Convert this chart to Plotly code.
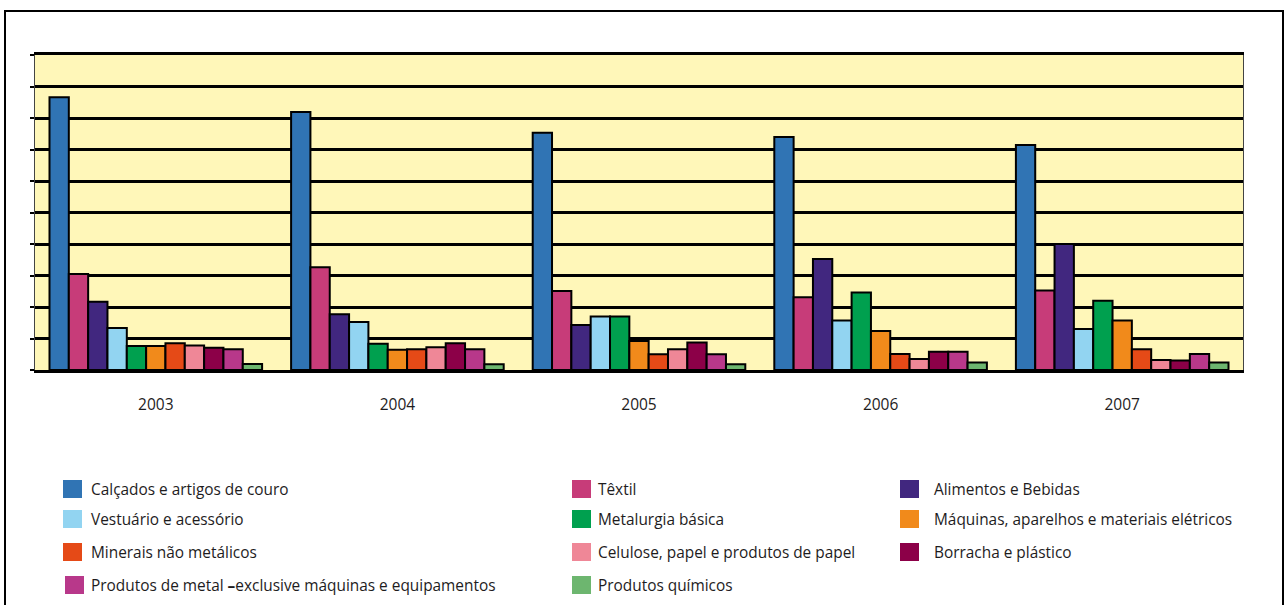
import plotly.graph_objects as go

years = ["2003", "2004", "2005", "2006", "2007"]

series_names = [
    "Calçados e artigos de couro",
    "Têxtil",
    "Alimentos e Bebidas",
    "Vestuário e acessório",
    "Metalurgia básica",
    "Máquinas, aparelhos e materiais elétricos",
    "Minerais não metálicos",
    "Celulose, papel e produtos de papel",
    "Borracha e plástico",
    "Produtos de metal <b>\u2013</b>exclusive máquinas e equipamentos",
    "Produtos químicos",
]

calcados = [8.66, 8.19, 7.53, 7.40, 7.14]
textil = [3.05, 3.26, 2.51, 2.31, 2.52]
alimentos = [2.17, 1.77, 1.43, 3.52, 4.00]
vestuario = [1.33, 1.52, 1.70, 1.57, 1.30]
metalurgia = [0.76, 0.83, 1.70, 2.46, 2.20]
maquinas = [0.76, 0.64, 0.92, 1.24, 1.57]
minerais = [0.85, 0.66, 0.50, 0.51, 0.66]
celulose = [0.78, 0.72, 0.66, 0.35, 0.32]
borracha = [0.71, 0.85, 0.87, 0.58, 0.30]
prod_metal = [0.66, 0.66, 0.50, 0.58, 0.51]
quimicos = [0.19, 0.18, 0.18, 0.24, 0.24]

series_values = [calcados, textil, alimentos, vestuario, metalurgia, maquinas,
                 minerais, celulose, borracha, prod_metal, quimicos]

colors = ["#3074B4", "#C73C79", "#41277F", "#92D4F1", "#00A04F", "#F18A1B",
          "#E54A17", "#EF8797", "#8C0048", "#B8388A", "#6DB66F"]

fig = go.Figure()
for name, vals, col in zip(series_names, series_values, colors):
    fig.add_trace(go.Bar(
        x=years, y=vals, name=name, showlegend=False,
        marker=dict(color=col, line=dict(color="black", width=2)),
    ))

W, H = 1285, 605
L, R, T, B = 35, 42, 55, 235
pw = W - L - R
ph = H - T - B


def px_x(px):
    return (px - L) / pw


def px_y(py):
    return (H - B - py) / ph


shapes = []
annotations = []

# outer frame
shapes.append(dict(type="rect", xref="paper", yref="paper",
                   x0=px_x(5), x1=px_x(1283), y0=px_y(615), y1=px_y(11),
                   line=dict(color="black", width=2), fillcolor="rgba(0,0,0,0)",
                   layer="below"))

# manual legend: 3 columns, row-major order
col_swatch_x = [63, 572, 900]
col_text_x = [91, 598, 934]
row_y = [489, 519, 552, 585]
for i, (name, col) in enumerate(zip(series_names, colors)):
    r, c = divmod(i, 3)
    sx = col_swatch_x[c] + (2 if (r == 3 and c == 0) else 0)
    cy = row_y[r]
    shapes.append(dict(type="rect", xref="paper", yref="paper",
                       x0=px_x(sx), x1=px_x(sx + 19), y0=px_y(cy + 9), y1=px_y(cy - 9),
                       fillcolor=col, line=dict(width=0)))
    annotations.append(dict(xref="paper", yref="paper", x=px_x(col_text_x[c] - 2), y=px_y(cy),
                            text=name, showarrow=False, xanchor="left", yanchor="middle",
                            font=dict(family="Open Sans", size=15.4, color="#1E1C1D")))

fig.update_layout(
    width=W, height=H,
    margin=dict(l=L, r=R, t=T, b=B),
    paper_bgcolor="white",
    plot_bgcolor="#FFF7B9",
    barmode="group",
    bargap=0.12,
    bargroupgap=0,
    font=dict(family="Open Sans", size=15, color="#1E1C1D"),
    shapes=shapes,
    annotations=annotations,
    xaxis=dict(showgrid=False, ticks="", ticklabelstandoff=18,
               showline=True, linecolor="black", linewidth=3, mirror=True,
               tickfont=dict(size=15.5, color="#1E1C1D")),
    yaxis=dict(range=[0, 10], dtick=1, showgrid=True, gridcolor="black", gridwidth=2.5,
               showticklabels=False, ticks="outside", ticklen=4, tickcolor="black",
               tickwidth=2, showline=True, linecolor="#444444", linewidth=1, mirror=True,
               zeroline=False, fixedrange=True),
)

fig.write_html("out.html")
